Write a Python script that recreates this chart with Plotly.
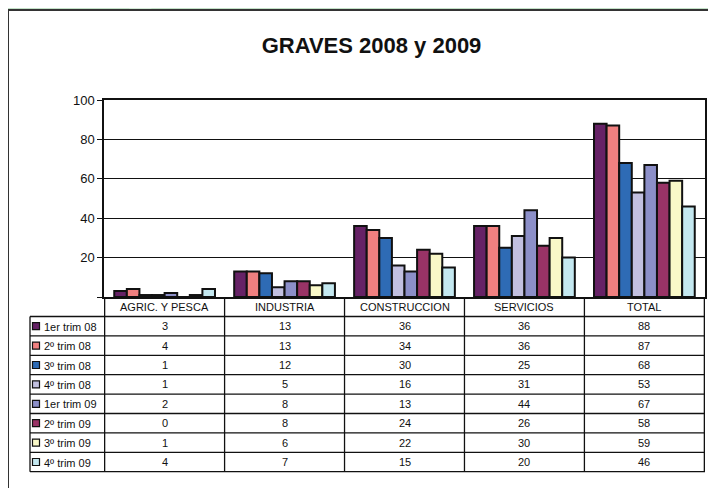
import plotly.graph_objects as go

categories = ["AGRIC. Y PESCA", "INDUSTRIA", "CONSTRUCCION", "SERVICIOS", "TOTAL"]
series_names = ["1er trim 08", "2º trim 08", "3º trim 08", "4º trim 08",
                "1er trim 09", "2º trim 09", "3º trim 09", "4º trim 09"]
trim1_08 = [3, 13, 36, 36, 88]
trim2_08 = [4, 13, 34, 36, 87]
trim3_08 = [1, 12, 30, 25, 68]
trim4_08 = [1, 5, 16, 31, 53]
trim1_09 = [2, 8, 13, 44, 67]
trim2_09 = [0, 8, 24, 26, 58]
trim3_09 = [1, 6, 22, 30, 59]
trim4_09 = [4, 7, 15, 20, 46]
series_values = [trim1_08, trim2_08, trim3_08, trim4_08,
                 trim1_09, trim2_09, trim3_09, trim4_09]
colors = ["#662266", "#f08080", "#2e6bb5", "#c2c0e0",
          "#8c8fc8", "#993366", "#f9f8c8", "#c4e8f0"]
y_ticks = [0, 20, 40, 60, 80, 100]
y_tick_text = ["", "20", "40", "60", "80", "100"]
title_text = "GRAVES 2008 y 2009"

# The page places the figure 8px from the top-left corner; work in screen
# coordinates and convert.
OFF = 8
W, H = 716 - OFF, 488 - OFF
L, R, T, B = 104, 705, 100, 297  # screen pixels of the plot area
FONT = "Liberation Sans, Arial, sans-serif"


def px(xp):
    return (xp - L) / (R - L)


def py(yp):
    return (B - yp) / (B - T)


fig = go.Figure()
for name, vals, col in zip(series_names, series_values, colors):
    fig.add_trace(go.Bar(
        x=categories, y=vals, name=name,
        marker=dict(color=col, line=dict(color="#111111", width=2)),
    ))

shapes = []
# white panel
shapes.append(dict(type="rect", xref="paper", yref="paper", layer="below",
                   x0=px(8), x1=px(730), y0=py(10), y1=py(500),
                   fillcolor="white", line=dict(color="#333333", width=2)))
# subtle lighter diagonal stripe in the green
shapes.append(dict(type="path", xref="paper", yref="paper", layer="below",
                   path=f"M {px(118)} {py(0)} L {px(140)} {py(0)} L {px(152)} {py(9)} L {px(130)} {py(9)} Z",
                   fillcolor="#d3ead6", line=dict(width=0)))

row_h = 19.4
hdr_bot = 316.5
tab_bot = hdr_bot + 8 * row_h
line_style = dict(color="#111111", width=1.3)
for i in range(9):
    yy = hdr_bot + i * row_h
    shapes.append(dict(type="line", xref="paper", yref="paper",
                       x0=px(30), x1=1, y0=py(yy), y1=py(yy), line=line_style))
shapes.append(dict(type="line", xref="paper", yref="paper",
                   x0=px(30), x1=px(30), y0=py(hdr_bot), y1=py(tab_bot), line=line_style))
for i in range(len(categories) + 1):
    shapes.append(dict(type="line", xref="x", yref="paper",
                       x0=i - 0.5, x1=i - 0.5, y0=0, y1=py(tab_bot), line=line_style))

tfont = dict(size=11, color="#111111", family=FONT)
annotations = []
for c in categories:
    annotations.append(dict(x=c, xref="x", y=py((B + hdr_bot) / 2 + 0.5), yref="paper",
                            xanchor="center", yanchor="middle",
                            text=c, showarrow=False, font=tfont))
for r, (name, vals, col) in enumerate(zip(series_names, series_values, colors)):
    yc = hdr_bot + (r + 0.5) * row_h
    for c, v in zip(categories, vals):
        annotations.append(dict(x=c, xref="x", y=py(yc), yref="paper",
                                xanchor="center", yanchor="middle",
                                text=str(v), showarrow=False, font=tfont))
    shapes.append(dict(type="rect", xref="paper", yref="paper",
                       x0=px(32.5), x1=px(39.5), y0=py(yc - 3.5), y1=py(yc + 3.5),
                       fillcolor=col, line=dict(color="#111111", width=1.2)))
    annotations.append(dict(x=px(42), xref="paper", y=py(yc + 0.5), yref="paper",
                            xanchor="left", yanchor="middle", text=name, showarrow=False,
                            font=tfont))

fig.update_layout(
    width=W, height=H,
    margin=dict(l=L - OFF, r=716 - R, t=T - OFF, b=488 - B, pad=0, autoexpand=False),
    paper_bgcolor="#c3e1c7",
    plot_bgcolor="white",
    barmode="group", bargap=0.16, bargroupgap=0,
    showlegend=False,
    font=dict(family=FONT, color="#111111"),
    title=dict(text="<b>" + title_text + "</b>", x=(371.5 - OFF) / W,
               xanchor="center", y=1 - (45 - OFF) / H, yanchor="middle",
               font=dict(size=22, family=FONT, color="#111111")),
    xaxis=dict(showticklabels=False, showgrid=False, showline=True, mirror=True,
               linecolor="#111111", linewidth=1.5, ticks=""),
    yaxis=dict(range=[0, 100], tickvals=y_ticks, ticktext=y_tick_text,
               showgrid=True, gridcolor="#111111", gridwidth=1.2,
               showline=True, mirror=True, linecolor="#111111", linewidth=1.5,
               ticks="outside", ticklen=5, tickcolor="#111111", tickwidth=1,
               zeroline=False, automargin=False,
               tickfont=dict(size=13, family=FONT, color="#111111")),
    shapes=shapes,
    annotations=annotations,
)

fig.write_html("out.html")
